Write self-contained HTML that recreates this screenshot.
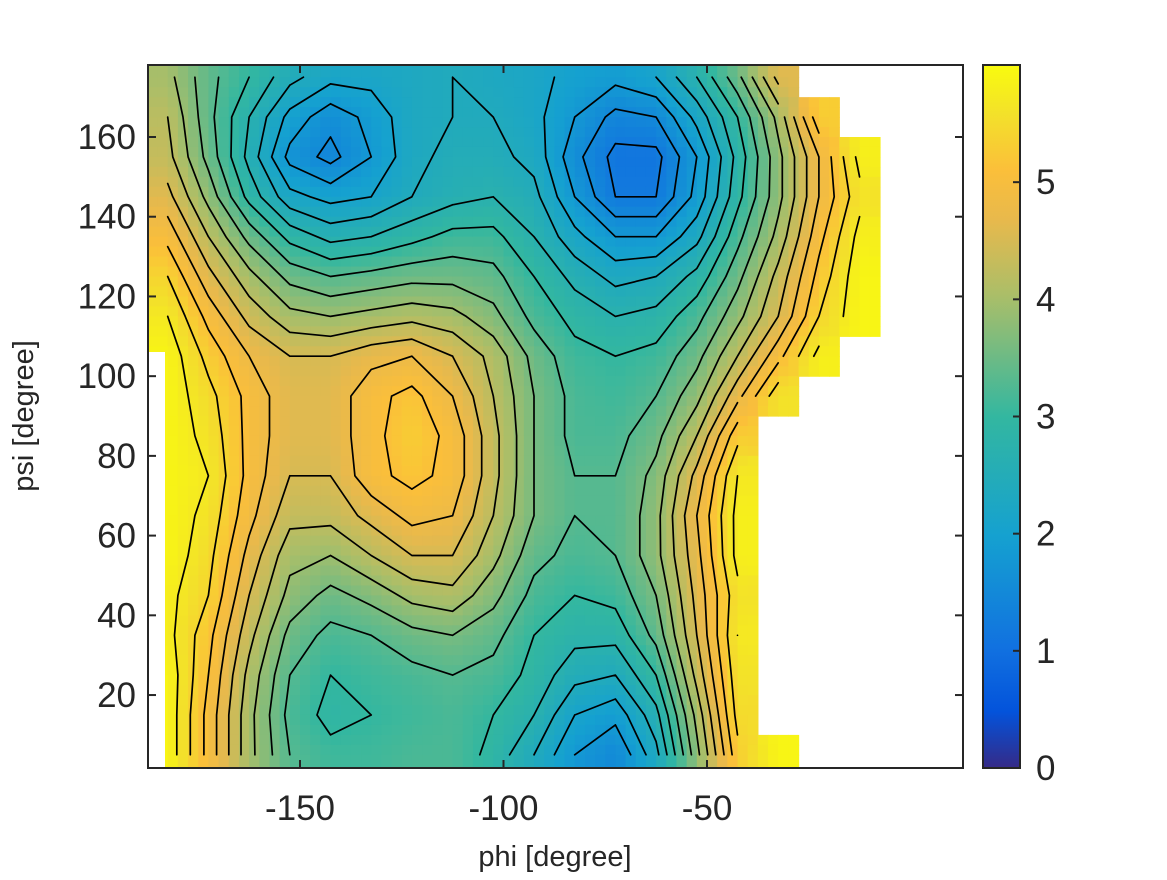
<!DOCTYPE html>
<html><head><meta charset="utf-8"><style>
body{margin:0;background:#fff;width:1167px;height:875px;overflow:hidden;font-family:"Liberation Sans",sans-serif}
</style></head><body>
<svg id="chart" width="1167" height="875" xmlns="http://www.w3.org/2000/svg" font-family="Liberation Sans, sans-serif">
<defs>
<clipPath id="plotclip"><rect x="148" y="65" width="815" height="703"/></clipPath>
<linearGradient id="cbgrad" x1="0" y1="1" x2="0" y2="0">
<stop offset="0" stop-color="#352a87"/><stop offset="0.08" stop-color="#0353db"/><stop offset="0.17" stop-color="#1171e0"/><stop offset="0.33" stop-color="#15a1d0"/><stop offset="0.5" stop-color="#33b7a0"/><stop offset="0.67" stop-color="#a9be69"/><stop offset="0.78" stop-color="#e8b94c"/><stop offset="0.85" stop-color="#fbbf3a"/><stop offset="0.93" stop-color="#f3e12a"/><stop offset="1" stop-color="#f9fb0e"/>
</linearGradient>
</defs>
<g id="cells" clip-path="url(#plotclip)"></g>
<rect x="148" y="352" width="17" height="416" fill="#fff"/>
<g id="contours" clip-path="url(#plotclip)"></g>
<rect x="148" y="65" width="815" height="703" fill="none" stroke="#262626" stroke-width="2"/>
<g id="ticks"></g>
<text x="555" y="866" font-size="29" text-anchor="middle" fill="#262626">phi [degree]</text>
<text transform="translate(33,416) rotate(-90)" font-size="29" text-anchor="middle" fill="#262626">psi [degree]</text>
<rect x="983" y="65" width="37" height="703" fill="url(#cbgrad)" stroke="#262626" stroke-width="2"/>
<g id="cbticks"></g>
</svg>
<script>
const phiCenters=[-182.5,-172.5,-162.5,-152.5,-142.5,-132.5,-122.5,-112.5,-102.5,-92.5,-82.5,-72.5,-62.5,-52.5,-42.5,-32.5,-22.5,-12.5,-2.5,7.5];
const psiCenters=[175,165,155,145,135,125,115,105,95,85,75,65,55,45,35,25,15,5];
const N=null;
const energy=[
[4.0,3.4,3.0,2.5,2.2,2.2,2.3,2.4,2.3,2.2,2.0,1.9,2.1,2.7,3.5,4.6,N,N,N,N],
[4.2,3.4,2.7,2.0,1.6,1.9,2.3,2.4,2.4,2.2,1.8,1.4,1.5,2.2,3.0,4.0,5.3,N,N,N],
[4.3,3.5,2.6,1.7,1.4,1.8,2.3,2.5,2.5,2.3,1.6,1.1,1.1,1.8,2.8,3.8,4.8,5.8,N,N],
[4.6,3.8,2.9,2.2,2.0,2.1,2.4,2.6,2.7,2.5,1.8,1.2,1.2,1.9,2.9,3.8,4.8,5.6,N,N],
[5.0,4.2,3.5,2.9,2.6,2.7,2.9,3.1,3.1,2.7,2.2,1.8,1.8,2.3,3.2,4.0,5.0,5.8,N,N],
[5.4,4.6,4.0,3.5,3.3,3.4,3.5,3.5,3.4,3.0,2.6,2.3,2.4,2.8,3.5,4.3,5.2,5.9,N,N],
[5.7,5.0,4.4,4.0,3.9,4.0,4.1,4.0,3.7,3.2,2.9,2.7,2.8,3.2,3.8,4.5,5.4,5.9,N,N],
[5.9,5.3,4.8,4.5,4.5,4.7,4.8,4.5,4.1,3.5,3.1,3.0,3.1,3.5,4.2,5.0,5.8,N,N,N],
[5.9,5.5,5.0,4.6,4.6,5.0,5.2,4.8,4.2,3.6,3.2,3.1,3.3,3.8,4.7,5.6,N,N,N,N],
[5.9,5.6,5.0,4.6,4.6,5.0,5.3,5.0,4.3,3.6,3.2,3.2,3.5,4.2,5.3,N,N,N,N,N],
[5.9,5.7,5.0,4.5,4.5,5.0,5.2,5.0,4.3,3.6,3.3,3.3,3.7,4.6,5.7,N,N,N,N,N],
[5.9,5.6,4.9,4.3,4.3,4.6,4.9,4.8,4.2,3.6,3.3,3.3,3.8,4.8,5.8,N,N,N,N,N],
[5.9,5.5,4.7,4.0,3.9,4.2,4.5,4.5,4.0,3.4,3.2,3.3,3.8,4.7,5.8,N,N,N,N,N],
[5.8,5.4,4.5,3.8,3.5,3.7,4.0,4.1,3.7,3.2,3.0,3.1,3.6,4.6,5.6,N,N,N,N,N],
[5.8,5.2,4.3,3.5,3.2,3.3,3.5,3.6,3.4,3.0,2.8,2.8,3.4,4.5,5.7,N,N,N,N,N],
[5.9,5.1,4.1,3.3,3.0,3.1,3.2,3.3,3.2,2.9,2.5,2.4,3.0,4.3,5.6,N,N,N,N,N],
[5.9,5.0,4.0,3.2,2.9,3.0,3.1,3.2,3.0,2.7,2.1,1.9,2.6,4.0,5.5,N,N,N,N,N],
[5.9,5.0,4.0,3.3,3.1,3.1,3.2,3.2,2.9,2.4,1.8,1.5,2.3,3.8,5.3,5.9,N,N,N,N]
];
const xTicks=[-150,-100,-50];
const yTicks=[20,40,60,80,100,120,140,160];
const cTicks=[0,1,2,3,4,5];
const contourLevels=[0.6,0.9,1.2,1.5,1.8,2.1,2.4,2.7,3.0,3.3,3.6,3.9,4.2,4.5,4.8,5.1,5.4,5.7];

const X=p=>300+(p+150)*4.07, Y=s=>137+(160-s)*3.986;
const CMAX=6;
const stops=[[0,'#352a87'],[0.08,'#0353db'],[0.17,'#1171e0'],[0.33,'#15a1d0'],[0.5,'#33b7a0'],[0.67,'#a9be69'],[0.78,'#e8b94c'],[0.85,'#fbbf3a'],[0.93,'#f3e12a'],[1,'#f9fb0e']];
function hx(c){return [1,3,5].map(i=>parseInt(c.substr(i,2),16));}
function color(v){let t=Math.max(0,Math.min(1,v/CMAX));for(let i=1;i<stops.length;i++){if(t<=stops[i][0]){const a=hx(stops[i-1][1]),b=hx(stops[i][1]);const f=(t-stops[i-1][0])/(stops[i][0]-stops[i-1][0]);return 'rgb('+a.map((x,k)=>Math.round(x+(b[k]-x)*f)).join(',')+')';}}return stops[stops.length-1][1];}
const NS='http://www.w3.org/2000/svg';
function mk(tag,attrs,parent){const e=document.createElementNS(NS,tag);for(const k in attrs)e.setAttribute(k,attrs[k]);parent.appendChild(e);return e;}
const R=psiCenters.length,C=phiCenters.length;
function val(r,c,fr,fc){r=Math.max(0,Math.min(R-1,r));c=Math.max(0,Math.min(C-1,c));const v=energy[r][c];return v==null?energy[fr][fc]:v;}
const cellsG=document.getElementById('cells');
const SUB=4;
for(let r=0;r<R;r++)for(let c=0;c<C;c++){
  if(energy[r][c]==null)continue;
  for(let i=0;i<SUB;i++)for(let j=0;j<SUB;j++){
    const fr=r+(i+0.5)/SUB-0.5, fc=c+(j+0.5)/SUB-0.5;
    const r0=Math.floor(fr),c0=Math.floor(fc),dr=fr-r0,dc=fc-c0;
    const v=(1-dr)*((1-dc)*val(r0,c0,r,c)+dc*val(r0,c0+1,r,c))+dr*((1-dc)*val(r0+1,c0,r,c)+dc*val(r0+1,c0+1,r,c));
    const x0=X(phiCenters[c]-5+10*j/SUB),y0=Y(psiCenters[r]+5-10*i/SUB);
    const el=mk('rect',{x:x0.toFixed(2),y:y0.toFixed(2),width:(10/SUB*4.07+0.6).toFixed(2),height:(10/SUB*3.986+0.6).toFixed(2),fill:color(v)},cellsG);
    
    
  }
}
const cg=document.getElementById('contours');
let d='';
for(const L of contourLevels){
  for(let r=0;r<R-1;r++)for(let c=0;c<C-1;c++){
    const v=[energy[r][c],energy[r][c+1],energy[r+1][c+1],energy[r+1][c]];
    if(v.some(x=>x==null))continue;
    const P=[[phiCenters[c],psiCenters[r]],[phiCenters[c+1],psiCenters[r]],[phiCenters[c+1],psiCenters[r+1]],[phiCenters[c],psiCenters[r+1]]];
    const pts=[];
    for(let e=0;e<4;e++){const a=v[e],b=v[(e+1)%4];if((a<L)!==(b<L)){const f=(L-a)/(b-a);const pa=P[e],pb=P[(e+1)%4];pts.push([X(pa[0]+(pb[0]-pa[0])*f),Y(pa[1]+(pb[1]-pa[1])*f)]);}}
    for(let k=0;k+1<pts.length;k+=2)d+='M'+pts[k][0].toFixed(1)+' '+pts[k][1].toFixed(1)+'L'+pts[k+1][0].toFixed(1)+' '+pts[k+1][1].toFixed(1);
  }
}
const cp=mk('path',{d:d,fill:'none',stroke:'#000','stroke-width':1.7,'stroke-linecap':'round'},cg);


const tg=document.getElementById('ticks');
for(const t of xTicks){const x=X(t);
  const l1=mk('line',{x1:x,y1:768,x2:x,y2:760,stroke:'#262626','stroke-width':2},tg);
  
  
  const l2=mk('line',{x1:x,y1:65,x2:x,y2:73,stroke:'#262626','stroke-width':2},tg);
  
  
  const tx=mk('text',{x:x,y:820,'font-size':35,'text-anchor':'middle',fill:'#262626'},tg);tx.textContent=t;
  
  
}
for(const t of yTicks){const y=Y(t);
  const l1=mk('line',{x1:148,y1:y,x2:156,y2:y,stroke:'#262626','stroke-width':2},tg);
  
  
  const l2=mk('line',{x1:955,y1:y,x2:963,y2:y,stroke:'#262626','stroke-width':2},tg);
  
  
  const tx=mk('text',{x:136,y:y+12,'font-size':35,'text-anchor':'end',fill:'#262626'},tg);tx.textContent=t;
  
  
}
const cbg=document.getElementById('cbticks');
for(const t of cTicks){const y=768-t*(703/CMAX);
  const l=mk('line',{x1:1013,y1:y,x2:1020,y2:y,stroke:'#262626','stroke-width':2},cbg);
  
  
  const tx=mk('text',{x:1036,y:y+12,'font-size':35,fill:'#262626'},cbg);tx.textContent=t;
  
  
}
</script>
</body></html>
